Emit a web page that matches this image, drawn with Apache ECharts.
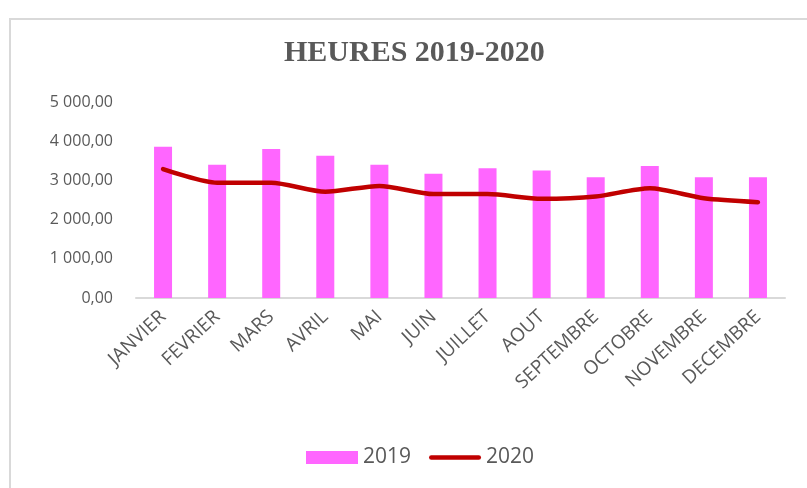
<!doctype html>
<html>
<head>
<meta charset="UTF-8">
<script src="https://cdn.jsdelivr.net/npm/echarts@6/dist/echarts.min.js"></script>
<style>
  html, body { margin: 0; padding: 0; overflow: hidden; background: #fff; }
  #frame { position: absolute; left: 9px; top: 18px; width: 820px; height: 500px; border: 2px solid #d9d9d9; box-sizing: border-box; }
  #heures { position: absolute; left: 0; top: 0; width: 807px; height: 488px; }
</style>
</head>
<body>
<div id="frame"></div>
<div id="heures"></div>
<script>
var mois = ['JANVIER', 'FEVRIER', 'MARS', 'AVRIL', 'MAI', 'JUIN', 'JUILLET', 'AOUT', 'SEPTEMBRE', 'OCTOBRE', 'NOVEMBRE', 'DECEMBRE'];
var heures2019 = [3860, 3400, 3800, 3630, 3400, 3170, 3310, 3250, 3080, 3370, 3080, 3080];
var heures2020 = [3290, 2940, 2940, 2710, 2860, 2650, 2650, 2530, 2590, 2800, 2545, 2445];

function fmt(v) {
    // 5 000,00
    var s = Math.round(v).toString().replace(/\B(?=(\d{3})+(?!\d))/g, ' ');
    return s + ',00';
}

var chart = echarts.init(document.getElementById('heures'));
var option = {
    animation: false,
    title: {
        text: 'HEURES 2019-2020',
        left: 279,
        top: 33,
        textStyle: {
            fontFamily: 'Liberation Serif',
            fontWeight: 'bold',
            fontSize: 30,
            color: '#595959'
        }
    },
    legend: {
        bottom: 15,
        left: 301,
        itemWidth: 52,
        itemHeight: 13,
        itemGap: 18,
        symbolKeepAspect: true,
        textStyle: { fontFamily: 'Open Sans', fontSize: 21, color: '#595959' },
        data: [
            { name: '2019', icon: 'rect' },
            { name: '2020', icon: 'path://M2,0 L54,0 A2.5,2.5 0 0 1 54,5 L2,5 A2.5,2.5 0 0 1 2,0 Z' }
        ]
    },
    grid: {
        left: 136,
        right: 22,
        top: 102,
        bottom: 190
    },
    xAxis: {
        type: 'category',
        data: mois,
        axisLine: { lineStyle: { color: '#d9d9d9', width: 2 } },
        axisTick: { show: false },
        axisLabel: {
            rotate: 43,
            interval: 0,
            margin: 16,
            fontFamily: 'Open Sans',
            fontSize: 19,
            color: '#595959'
        }
    },
    yAxis: {
        type: 'value',
        min: 0,
        max: 5000,
        interval: 1000,
        splitLine: { show: false },
        axisLine: { show: false },
        axisLabel: {
            formatter: fmt,
            margin: 23,
            fontFamily: 'Open Sans',
            fontSize: 16,
            color: '#595959'
        }
    },
    series: [
        {
            name: '2019',
            type: 'bar',
            barWidth: 18,
            itemStyle: { color: '#ff66ff' },
            data: heures2019
        },
        {
            name: '2020',
            type: 'line',
            smooth: 0.25,
            symbol: 'none',
            lineStyle: { color: '#c00000', width: 4.5, cap: 'round' },
            itemStyle: { color: '#c00000' },
            data: heures2020
        }
    ]
};
chart.setOption(option);
</script>
</body>
</html>
